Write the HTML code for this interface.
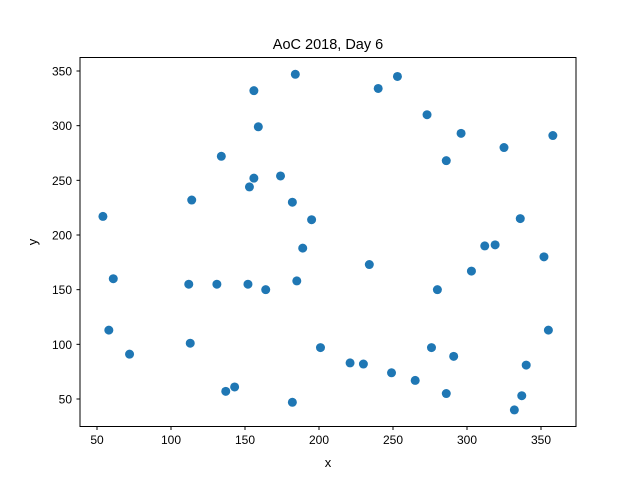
<!DOCTYPE html>
<html><head><meta charset="utf-8"><style>
body{margin:0;background:#fff;width:640px;height:479px;overflow:hidden;font-family:"Liberation Sans","DejaVu Sans",sans-serif}
</style></head><body>
<svg id="chart" width="640" height="479" xmlns="http://www.w3.org/2000/svg">
<text x="328" y="49" text-anchor="middle" font-size="14.5" fill="#000">AoC 2018, Day 6</text>
<g id="marks"></g>
<rect x="80" y="57.5" width="496" height="369" fill="none" stroke="#000" stroke-width="1"/>
<g id="axes" font-size="12" fill="#000"></g>
<text x="328" y="467" text-anchor="middle" font-size="13">x</text>
<text x="37" y="242" text-anchor="middle" font-size="13" transform="rotate(-90 37 242)">y</text>
</svg>
<script>
const xs=[54,58,61,72,112,113,114,131,134,137,143,152,153,156,156,159,164,174,182,182,185,184,189,195,201,221,230,234,240,249,253,265,273,276,280,286,286,291,296,303,312,319,325,332,336,337,340,352,355,358];
const ys=[217,113,160,91,155,101,232,155,272,57,61,155,244,252,332,299,150,254,47,230,158,347,188,214,97,83,82,173,334,74,345,67,310,97,150,268,55,89,293,167,190,191,280,40,215,53,81,180,113,291];
const xTicks=[50,100,150,200,250,300,350];
const yTicks=[50,100,150,200,250,300,350];
const NS="http://www.w3.org/2000/svg";
const xPx=v=>97+(v-50)*1.48;
const yPx=v=>399-(v-50)*328/300;
const marks=document.getElementById('marks');
xs.forEach((x,i)=>{
const c=document.createElementNS(NS,'circle');


c.setAttribute('cx',xPx(x));c.setAttribute('cy',yPx(ys[i]));c.setAttribute('r',4.5);c.setAttribute('fill','#1f77b4');
marks.appendChild(c);
});
const ax=document.getElementById('axes');
xTicks.forEach(t=>{
const l=document.createElementNS(NS,'line');


l.setAttribute('x1',xPx(t));l.setAttribute('x2',xPx(t));l.setAttribute('y1',426.5);l.setAttribute('y2',430);l.setAttribute('stroke','#000');
ax.appendChild(l);
const tx=document.createElementNS(NS,'text');


tx.setAttribute('x',xPx(t));tx.setAttribute('y',444);tx.setAttribute('text-anchor','middle');tx.textContent=t;
ax.appendChild(tx);
});
yTicks.forEach(t=>{
const l=document.createElementNS(NS,'line');


l.setAttribute('x1',76.5);l.setAttribute('x2',80);l.setAttribute('y1',yPx(t));l.setAttribute('y2',yPx(t));l.setAttribute('stroke','#000');
ax.appendChild(l);
const tx=document.createElementNS(NS,'text');


tx.setAttribute('x',72);tx.setAttribute('y',yPx(t)+4.5);tx.setAttribute('text-anchor','end');tx.textContent=t;
ax.appendChild(tx);
});
</script>
</body></html>
